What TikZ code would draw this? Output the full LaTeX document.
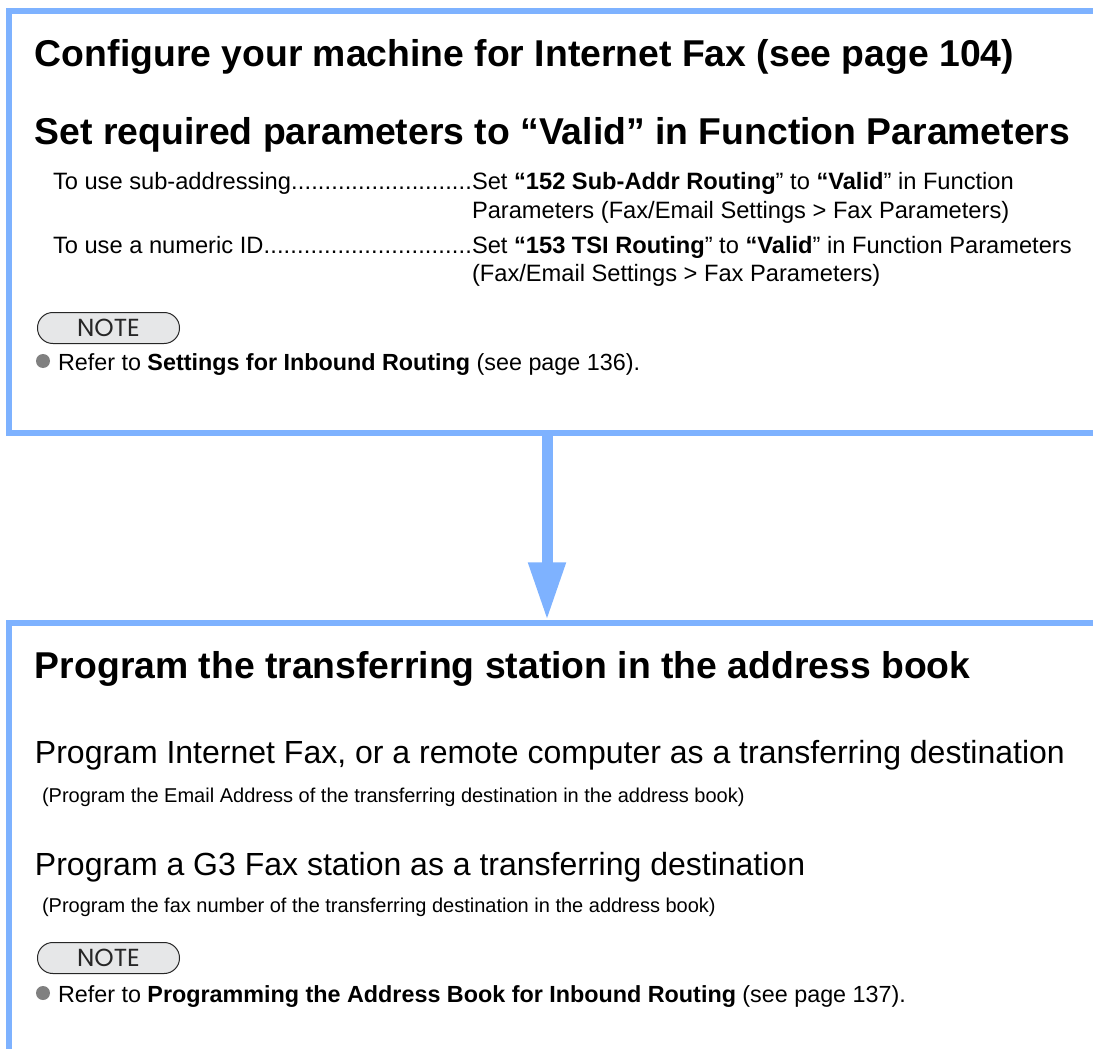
\documentclass[tikz,border=0pt]{standalone}
\usepackage{fontspec}
\setmainfont{Liberation Sans}
\newfontfamily\notefont{Poppins}
\usetikzlibrary{arrows.meta}
\definecolor{flowblue}{RGB}{126,178,255}
\definecolor{notegray}{RGB}{230,231,232}
\definecolor{bulletgray}{RGB}{128,128,128}
\newcommand\leaderdots{\xleaders\hbox{.}\hfill}
\begin{document}
\begin{tikzpicture}[x=0.75pt,y=-0.75pt,
  txt/.style={anchor=base west, inner sep=0pt, outer sep=0pt},
  heading/.style={txt, font=\fontsize{28}{33}\selectfont\bfseries},
  subtext/.style={txt, font=\fontsize{17.75}{21}\selectfont},
  refertext/.style={txt, font=\fontsize{17.5}{21}\selectfont},
  bigtext/.style={txt, font=\fontsize{24}{28}\selectfont},
  paren/.style={txt, font=\fontsize{15}{18}\selectfont},
  notebox/.style={draw=black!85, line width=0.75pt, fill=notegray, rounded corners=11.5pt,
    minimum width=106.5pt, minimum height=23.25pt, inner sep=0pt,
    font=\notefont\fontsize{18.5}{20}\selectfont, text=black!85, anchor=north west},
  bulletdot/.style={circle, fill=bulletgray, minimum size=10.5pt, inner sep=0pt},
  boxframe/.style={draw=flowblue, line width=4.5pt},
  flowarrow/.style={draw=flowblue, line width=8.25pt, shorten >=2pt,
    -{Triangle[width=26.25pt,length=43.5pt]}},
  area/.style={inner sep=0pt, outer sep=0pt, anchor=north west, minimum width=817.5pt}
]
\useasboundingbox (0,0) rectangle (1093,1049);

% frames
\node[area, minimum height=316.5pt] (box1) at (9,11) {};
\node[area, minimum height=327pt] (box2) at (9,623) {};
\draw[boxframe] (box1.north east) -- (box1.north west) -- (box1.south west) -- (box1.south east);
\draw[boxframe] (box2.north east) -- (box2.north west) -- (box2.south west);

% connector
\coordinate (ax) at (547,0);
\draw[flowarrow] (box1.south -| ax) -- (box2.north -| ax);

% top box text
\node[heading] (h1) at (35,67) {Configure your machine for Internet Fax (see page 104)};
\node[heading] (h2) at (35,145) {Set required parameters to “Valid” in Function Parameters};

\node[subtext] (l1a) at (53,190) {\makebox[314.25pt][l]{To use sub-addressing\leaderdots}};
\node[subtext] (l1b) at (472,190) {Set \textbf{“152 Sub-Addr Routing}” to \textbf{“Valid}” in Function};
\node[subtext] (l2b) at (472,218) {Parameters (Fax/Email Settings > Fax Parameters)};
\node[subtext] (l3a) at (53,253) {\makebox[314.25pt][l]{To use a numeric ID\leaderdots}};
\node[subtext] (l3b) at (472,253) {Set \textbf{“153 TSI Routing}” to \textbf{“Valid}” in Function Parameters};
\node[subtext] (l4b) at (472,281) {(Fax/Email Settings > Fax Parameters)};

\node[notebox] (note1) at (37,312) {NOTE};
\node[bulletdot] (b1) at (43,361) {};
\node[refertext] (r1) at (58,370) {Refer to \textbf{Settings for Inbound Routing} (see page 136).};

% bottom box text
\node[heading] (h3) at (35,678) {Program the transferring station in the address book};
\node[bigtext] (p1) at (35,763) {Program Internet Fax, or a remote computer as a transferring destination};
\node[paren] (p1s) at (42,802) {(Program the Email Address of the transferring destination in the address book)};
\node[bigtext] (p2) at (35,875) {Program a G3 Fax station as a transferring destination};
\node[paren] (p2s) at (42,912) {(Program the fax number of the transferring destination in the address book)};

\node[notebox] (note2) at (37,942) {NOTE};
\node[bulletdot] (b2) at (43,993) {};
\node[refertext] (r2) at (58,1002) {Refer to \textbf{Programming the Address Book for Inbound Routing} (see page 137).};
\end{tikzpicture}
\end{document}
